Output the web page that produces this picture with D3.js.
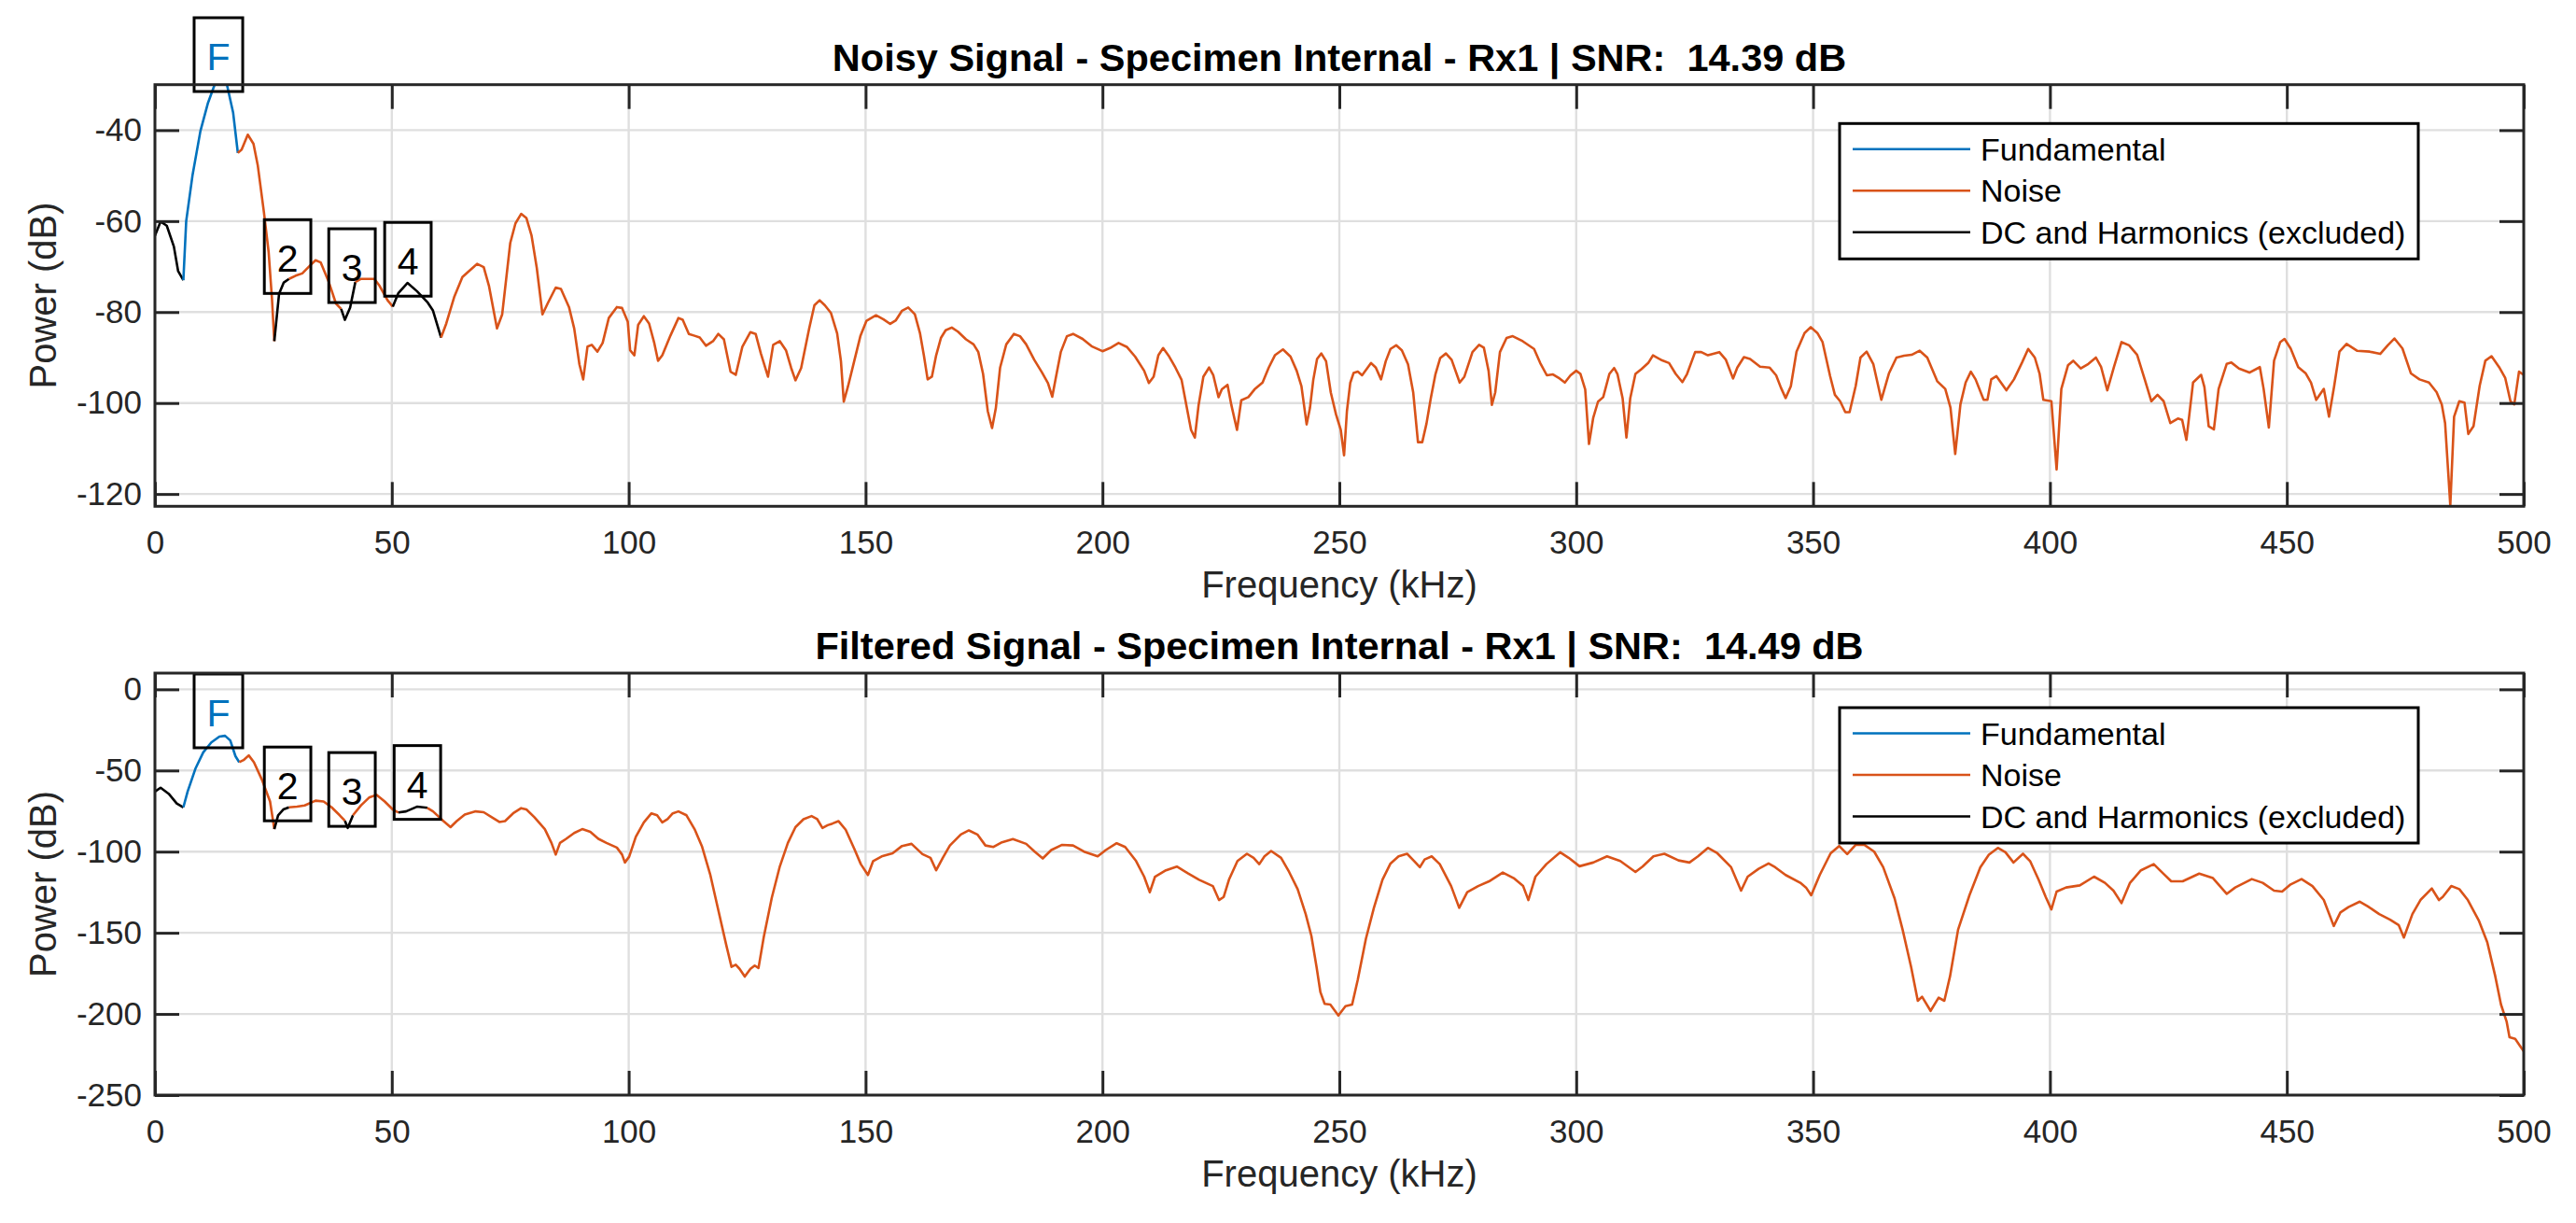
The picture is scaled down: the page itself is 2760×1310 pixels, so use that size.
<!DOCTYPE html>
<html lang="en">
<head>
  <meta charset="UTF-8">
  <title>SNR spectrum - Specimen Internal - Rx1</title>
  <script src="https://d3js.org/d3.v7.min.js"></script>
  <style>
    body { margin: 0; background: #fff; }
    text { font-family: "Liberation Sans", Arial, Helvetica, sans-serif; }
  </style>
</head>
<body>
<script>
  // values: [frequency kHz, power dB]
  var noisySpectrum = [
    [0,-63.2],[1.2,-60.1],[2.5,-61],[4,-65.6],[4.9,-71],[6.0,-73],
    [6.6,-60],[7.95,-49.8],[9.6,-40.2],[11.2,-34],[12.6,-30],[13.9,-28],[15.2,-30],[16.5,-36.1],[17.5,-45],
    [18.3,-44.3],[19.6,-41],[20.8,-43],[21.7,-47.7],[23.0,-58],[24.0,-66.8],[24.7,-77],[25.2,-86.4],
    [26.2,-76],[27.2,-73.5],[28.3,-72.7],[29.7,-72],[31.1,-71.5],[32.5,-70],[33.9,-68.6],[35,-69.1],[36.7,-73.4],
    [38.2,-78.1],[39.3,-79.3],[40.1,-81.7],[41.2,-79],[42.3,-73.4],[43.5,-72.7],[46.3,-72.7],[47.4,-74.2],[49.1,-77.4],
    [50.2,-78.8],[51.4,-75.8],[53.3,-73.6],[55.3,-75.4],[57.5,-77.8],[58.7,-79.7],[60.4,-85.6],[61.5,-82.5],[63.2,-76.6],
    [64.9,-72.3],[66.6,-70.7],[68,-69.4],[69.4,-70.1],[70.5,-74.2],[72.2,-83.6],[73.3,-80.5],[75,-64.8],[76.1,-60.5],
    [77.3,-58.4],[78.4,-59.3],[79.5,-63.2],[80.6,-70.3],[81.8,-80.5],[82.9,-78.1],[84.6,-74.6],[85.7,-74.9],[87.4,-78.9],
    [88.5,-83.6],[89.6,-91.5],[90.4,-94.8],[91.3,-87.6],[92.2,-87.2],[93.4,-88.7],[94.5,-86.8],[95.8,-81.3],[97.5,-78.9],
    [98.6,-79.1],[99.8,-82.1],[100.3,-88.4],[101.2,-89.5],[102,-82.8],[103.2,-80.9],[104.3,-82.5],[105.4,-86.8],[106.2,-90.7],
    [107.1,-89.5],[108.8,-85.2],[110.5,-81.3],[111.4,-81.7],[112.7,-84.8],[113.9,-85.2],[115,-85.6],[116.3,-87.4],[117.8,-86.4],
    [118.9,-84.8],[120.1,-86],[121.5,-93.1],[122.6,-93.8],[124,-87.6],[125.7,-84.4],[126.8,-84.8],[127.9,-89.1],[129.4,-94.2],
    [130.5,-87.2],[131.9,-86.4],[133.2,-88.4],[134.3,-92.3],[135.2,-95],[136.4,-92.3],[138.1,-83.6],[139.2,-78.5],[140.3,-77.4],
    [141.4,-78.5],[142.7,-80.2],[144,-84.7],[144.8,-90.8],[145.4,-99.7],[146.3,-96.3],[147.6,-90.8],[148.9,-85.3],[150.2,-81.9],
    [152.2,-80.7],[153.8,-81.6],[155.2,-82.6],[156.4,-81.8],[157.7,-79.7],[159,-79],[160.4,-80.5],[161.5,-84.7],[162.3,-89.5],
    [163.1,-94.8],[164,-94.2],[164.9,-89.5],[165.9,-85.7],[166.9,-84],[168.2,-83.4],[169.5,-84.3],[171.2,-86],[172.8,-87.1],
    [173.8,-88.8],[174.8,-93.6],[175.8,-101.8],[176.7,-105.5],[177.5,-101.1],[178.4,-92.2],[179.7,-87.1],[181.3,-84.8],
    [182.6,-85.3],[183.9,-87.1],[185.6,-90.5],[187.2,-93.2],[188.5,-95.6],[189.4,-98.6],[190.2,-94.2],[191.2,-88.8],
    [192.5,-85.3],[193.8,-84.8],[195.8,-85.9],[197.7,-87.5],[200,-88.6],[201.6,-87.9],[203.4,-86.8],[205.2,-87.7],
    [206.9,-89.8],[208.8,-92.9],[209.8,-95.6],[210.8,-94.2],[211.8,-89.5],[212.8,-87.9],[214.1,-89.8],[215.4,-92.2],
    [216.7,-94.9],[217.7,-100.4],[218.7,-105.9],[219.5,-107.6],[220.3,-100.4],[221.3,-94.2],[222.5,-92.2],[223.4,-93.9],
    [224.5,-98.7],[225.2,-97],[226.4,-96],[227.2,-100.4],[228.4,-105.9],[229.3,-99.4],[230.8,-98.7],[232.1,-97],
    [233.8,-95.5],[235.1,-92.2],[236.4,-89.5],[238.1,-88.2],[239.7,-89.8],[241,-92.9],[242,-96.3],[243.1,-104.7],
    [243.8,-101.1],[244.5,-94.9],[245.3,-90.3],[246.2,-89.1],[247.2,-90.8],[248.2,-97.7],[249.3,-102.5],[250.3,-105.9],
    [251,-111.5],[251.6,-101.8],[252.3,-95.6],[253,-93.4],[253.9,-93.1],[254.8,-93.9],[256.7,-91.2],[257.7,-92.2],
    [258.8,-94.8],[259.8,-90.8],[260.8,-88.1],[262,-87.3],[263.2,-88.4],[264.5,-91.5],[265.6,-97.7],[266.6,-108.6],
    [267.5,-108.6],[268.4,-104.5],[269.3,-99],[270.3,-93.6],[271.3,-90.1],[272.5,-89.1],[273.7,-90.5],[275.4,-95.5],
    [276.4,-94.2],[278.1,-88.8],[279.5,-87.2],[280.5,-87.8],[281.5,-92.9],[282.2,-100.4],[282.9,-97.7],[283.9,-88.8],
    [285.3,-85.7],[286.6,-85.3],[288.7,-86.4],[291.1,-88.1],[292.4,-91.2],[293.8,-93.9],[295.1,-93.7],[296.5,-94.6],
    [297.6,-95.5],[298.8,-93.9],[300,-92.9],[300.9,-93.6],[301.9,-97],[302.7,-109],[303.6,-103.2],[304.6,-99.7],
    [305.7,-98.7],[307,-93.6],[308,-92.3],[308.7,-93.6],[309.8,-99],[310.6,-107.6],[311.4,-99],[312.5,-93.6],
    [313.8,-92.5],[315.2,-91.2],[316.2,-89.5],[317.9,-90.5],[319.6,-91.2],[321,-93.6],[322.4,-95.4],[323.4,-93.6],
    [325.1,-88.8],[326.4,-88.8],[327.8,-89.5],[330.2,-88.8],[331.6,-90.5],[333.1,-94.6],[334,-92.2],[335.4,-89.9],
    [336.7,-90.3],[338.8,-92],[340.8,-92.2],[342.2,-93.9],[343.2,-96.6],[344.2,-98.9],[345.3,-96.3],[346.5,-88.7],
    [348.2,-84.6],[349.5,-83.3],[350.9,-84.6],[352,-86.6],[353.6,-94.1],[354.6,-98.2],[355.7,-99.6],[356.8,-102],
    [357.7,-102],[359,-96.2],[360,-90],[361.3,-88.7],[362.7,-91.4],[364.4,-99.3],[366,-93.5],[367.6,-90],[369.2,-89.6],
    [370.8,-89.4],[372.5,-88.5],[374.1,-90],[376.2,-95.2],[377.9,-96.9],[379,-101],[380,-111.2],[381.1,-100.3],
    [382.2,-95.5],[383.3,-93.1],[384.3,-94.8],[386,-99.3],[386.8,-99.3],[387.6,-94.8],[388.7,-94.1],[390.8,-97.2],
    [392.4,-94.8],[394.1,-91.1],[395.4,-88.1],[396.8,-90],[397.8,-93.5],[398.6,-99.3],[400.3,-99.6],[401.4,-114.6],
    [402.4,-96.9],[403.8,-91.7],[404.9,-90.7],[406.5,-92.4],[408.1,-91.4],[409.7,-90],[410.8,-92.1],[412.1,-97.2],
    [413.5,-92.1],[415.1,-86.6],[416.7,-87.3],[418.4,-89.4],[420,-94.8],[421.4,-99.6],[422.7,-98.2],[424,-99.6],
    [425.4,-104.4],[427,-103.4],[427.9,-103.7],[428.8,-108.1],[430.2,-95.5],[431.9,-93.8],[432.6,-96.5],[433.5,-105.1],
    [434.6,-105.8],[435.6,-96.9],[437.3,-91.4],[438.3,-91.1],[439.9,-92.4],[442.1,-93.3],[444.3,-92.1],[445.1,-96.9],
    [446.2,-105.4],[447.3,-90.7],[448.6,-86.6],[449.5,-85.9],[450.8,-88],[452.4,-92.1],[454,-93.5],[455.1,-95.5],
    [456.2,-99.3],[457.8,-96.9],[458.9,-103],[460,-96.2],[461.1,-88.7],[462.6,-87],[464.8,-88.5],[467.5,-88.7],
    [469.7,-89.2],[471.3,-87.3],[472.7,-85.8],[474.4,-88],[476.2,-93.5],[478,-94.8],[480,-95.5],[481.6,-97.6],
    [482.7,-100.3],[483.4,-104.4],[484.5,-122.5],[485.3,-103],[486.4,-99.6],[487.5,-99.9],[488.3,-106.8],[489.4,-105.1],
    [490.7,-96.2],[491.9,-90.7],[493.2,-89.7],[494.8,-92.1],[496.1,-94.5],[497.2,-99.6],[498,-100.3],[499,-93.1],[500,-93.8]
  ];

  var filteredSpectrum = [
    [0,-63],[1.2,-60.6],[2.9,-64.3],[4.6,-70.3],[6.0,-72.7],
    [6.9,-63],[8.6,-48.5],[10.2,-38.8],[11.9,-32.7],[13.6,-29.1],[14.8,-28.6],[15.9,-31.5],[17,-41.2],[17.8,-44.9],
    [18.7,-43.6],[19.8,-40.7],[20.9,-44.9],[22.6,-55.8],[24.3,-69.1],[25.2,-86.1],
    [26,-77.6],[27.1,-74],[28.3,-72.7],[30,-72.3],[31.6,-71.5],[33.9,-68.6],[35.6,-69.1],[37.3,-72.7],[39,-77.6],
    [40.1,-81],[40.7,-85.4],[41.8,-77.6],[43.5,-71.5],[45.2,-66.7],[46.8,-65],[48.5,-69.1],[50.2,-74],[51.4,-75.9],
    [53,-75.2],[55.3,-72.3],[57.5,-73],[58.7,-75.2],[60.9,-81.2],[62.4,-84.9],[63.7,-81.2],[65.4,-77.1],[67.7,-75.2],
    [69.4,-75.7],[71.1,-78.8],[72.7,-81.7],[73.9,-81.2],[75.6,-76.4],[77.3,-73.2],[78.4,-74],[80.1,-78.8],[82.3,-86.1],
    [83.7,-94.6],[84.6,-101.8],[85.5,-94.6],[86.8,-92.1],[88.5,-88.5],[90.2,-86.1],[91.9,-87.8],[93.6,-92.1],[95.3,-94.6],
    [97.5,-97.5],[98.6,-101.8],[99.2,-106.7],[100.1,-103.1],[101.5,-90.9],[103.2,-82],[104.8,-76.4],[106,-77.6],
    [107.1,-82],[108.2,-80],[109.3,-76.4],[110.5,-75.2],[112.2,-77.6],[113.9,-86.1],[115.5,-97],[117.2,-114],
    [118.9,-135.8],[120.6,-157.6],[121.7,-171],[122.6,-169.7],[123.4,-172.2],[124.5,-177],[125.7,-172.2],[126.6,-170.2],
    [127.4,-171.7],[128.5,-152.8],[130.2,-128.5],[131.9,-109.1],[133.6,-94.6],[135.2,-84.9],[136.9,-80],[138.6,-78.1],
    [139.8,-80],[140.9,-85.4],[142,-83.7],[143,-82.7],[144.3,-81.2],[145.8,-86.5],[147.6,-98.1],[149,-107.7],
    [150.5,-114.4],[151.6,-105.8],[153.4,-102.9],[155.7,-101],[157.7,-96.5],[159.7,-95.2],[162,-101.5],[163.7,-103.8],
    [164.9,-111.5],[166.3,-103.8],[167.8,-96.2],[170.1,-89.4],[171.8,-86.9],[173.6,-89.4],[175.3,-96.2],[177,-97.1],
    [178.8,-94.2],[181.1,-92.3],[183.9,-95.2],[185.7,-100],[187.4,-104.2],[189.2,-99],[191.5,-95.8],[193.8,-96.2],
    [196.1,-100],[199,-102.9],[200.7,-99],[203,-94.8],[204.8,-97.1],[207.1,-105.8],[208.8,-115.4],[210,-125],
    [211.1,-115.4],[213.4,-111.5],[215.7,-109.2],[218.1,-113.5],[220.4,-117.3],[223.3,-121.2],[224.6,-129.8],
    [225.6,-127.9],[226.7,-117.3],[228.5,-105.8],[230.5,-101.3],[231.9,-103.8],[233.1,-107.7],[234.2,-102.9],
    [235.6,-99.6],[237.7,-103.8],[239.4,-112.5],[241.2,-123.1],[242.9,-138.5],[244.1,-151.9],[245.2,-171.2],
    [246,-186.5],[246.9,-193.8],[248.1,-194.2],[249.8,-201],[251.3,-195.2],[252.7,-194.2],[253.9,-178.8],
    [255.6,-153.8],[257.3,-134.6],[259.1,-117.3],[260.8,-107.3],[262.5,-102.9],[264.3,-101.3],[265.8,-105.8],
    [267,-109.6],[268,-104.8],[269.5,-102.9],[271.2,-107.7],[273.6,-121.2],[275.3,-134.6],[277,-125],[279.3,-121.2],
    [281.6,-118.3],[284.5,-112.9],[286.8,-116.3],[288.8,-121.2],[289.9,-129.8],[291.4,-115.4],[293.7,-107.7],
    [296.6,-100.4],[298.4,-103.8],[300.7,-109],[303.6,-106.7],[306.5,-102.9],[309.3,-105.8],[312.5,-112.5],
    [314,-109.2],[316.3,-102.9],[318.6,-101.3],[321.6,-105.4],[323.9,-106.7],[325.7,-102.9],[327.8,-97.7],
    [329.8,-101],[332.7,-109.6],[334.8,-124],[336.2,-115.4],[338.5,-110.6],[340.6,-107.3],[342,-109.6],[344.2,-114.4],
    [347.3,-119.2],[348.5,-122.1],[349.6,-126.9],[351.4,-114.4],[353.7,-101],[355.5,-96.5],[357.2,-101.5],[359,-95.8],
    [360.8,-95.8],[362.9,-100],[364.8,-109.6],[367.2,-128.8],[368.9,-148.1],[370.7,-171.2],[372.1,-191.9],[373,-189.4],
    [374.8,-198.1],[376.5,-190],[377.7,-191.9],[378.9,-176.9],[380.6,-148.1],[383,-126.9],[385.3,-109.6],[387.1,-101.9],
    [389,-97.7],[390.6,-100.4],[392.3,-106.7],[394.3,-101.3],[395.8,-105.8],[397.6,-117.3],[399.1,-127.9],[400.3,-135.6],
    [401.4,-124.6],[403.4,-122.1],[406.3,-120.8],[409.3,-115.4],[411.6,-119.2],[413.4,-124],[415.1,-131.7],[416.9,-119.2],
    [419.2,-111.5],[421.9,-107.7],[423.9,-113.5],[425.6,-118.3],[428,-118.3],[431.5,-113.5],[434.4,-116.3],[437.3,-126],
    [439.1,-122.1],[442.6,-116.9],[444.9,-119.2],[447.3,-124],[449,-124.6],[450.8,-120.2],[453.1,-116.9],[455.4,-121.2],
    [457.8,-129.8],[459.9,-145.8],[461.3,-137.5],[463,-134.2],[465.4,-130.8],[467.1,-133.7],[469.5,-138.5],[471.8,-141.9],
    [473.6,-145.2],[474.7,-152.9],[476.5,-138.5],[478.2,-129.8],[480.6,-122.7],[482.1,-129.8],[482.9,-127.9],[484.7,-121.2],
    [486.4,-123.1],[488.2,-129.8],[490.5,-142.3],[492.3,-155.8],[494,-176.9],[495.2,-194.2],[496.4,-204.8],[497,-214.4],
    [498.2,-215.4],[499.1,-219.2],[500,-223]
  ];

  // frequency bands (kHz) of DC, fundamental and harmonics 2..4
  var noisyDC = [0, 6.0];
  var noisyFundamental = [6.0, 17.5];
  var noisyHarmonics = [[25.2, 28.3], [39.3, 42.3], [50.2, 60.4]];
  var filteredDC = [0, 6.0];
  var filteredFundamental = [6.0, 17.8];
  var filteredHarmonics = [[25.2, 28.3], [40.1, 41.8], [51.4, 57.5]];

  // marker labels: text, frequency (kHz), power at the box bottom (dB)
  var noisyMarkers = [['F', 13.4, -31.5], ['2', 28.0, -75.9], ['3', 41.6, -77.9], ['4', 53.4, -76.5]];
  var filteredMarkers = [['F', 13.4, -36.0], ['2', 28.0, -81.0], ['3', 41.6, -84.4], ['4', 55.4, -80.1]];

  var xTicks = [0, 50, 100, 150, 200, 250, 300, 350, 400, 450, 500];
  var noisyYTicks = [-120, -100, -80, -60, -40];
  var filteredYTicks = [-250, -200, -150, -100, -50, 0];
  var noisyYLim = [-122.7, -30];
  var filteredYLim = [-250, 10];

  var legendNames = ['Fundamental', 'Noise', 'DC and Harmonics (excluded)'];

  var BLUE = '#0072BD', ORANGE = '#D95319', BLACK = '#000000', AXIS = '#262626', GRID = '#dfdfdf';

  var panels = [
    { title: 'Noisy Signal - Specimen Internal - Rx1 | SNR:  14.39 dB', data: noisySpectrum,
      dc: noisyDC, fund: noisyFundamental, harm: noisyHarmonics, markers: noisyMarkers,
      yTicks: noisyYTicks, yLim: noisyYLim, top: 90.7, bottom: 542.3, legendTop: 132.3 },
    { title: 'Filtered Signal - Specimen Internal - Rx1 | SNR:  14.49 dB', data: filteredSpectrum,
      dc: filteredDC, fund: filteredFundamental, harm: filteredHarmonics, markers: filteredMarkers,
      yTicks: filteredYTicks, yLim: filteredYLim, top: 721, bottom: 1173, legendTop: 758 }
  ];

  var left = 166, right = 2704;

  var svg = d3.select('body').append('svg')
    .attr('width', 2760)
    .attr('height', 1310);

  var x = d3.scaleLinear().domain([0, 500]).range([left, right]);

  panels.forEach(function (p, pi) {
    var y = d3.scaleLinear().domain(p.yLim).range([p.bottom, p.top]);
    var g = svg.append('g');

    // grid
    g.selectAll('.vgrid').data(xTicks).enter().append('line')
      .attr('x1', x).attr('x2', x).attr('y1', p.top).attr('y2', p.bottom)
      .style('stroke', GRID).style('stroke-width', 2.4);
    g.selectAll('.hgrid').data(p.yTicks).enter().append('line')
      .attr('x1', left).attr('x2', right).attr('y1', y).attr('y2', y)
      .style('stroke', GRID).style('stroke-width', 2.4);

    // split the spectrum into its bands
    var special = [{ r: p.dc, c: BLACK }, { r: p.fund, c: BLUE }].concat(p.harm.map(function (r) { return { r: r, c: BLACK }; }));
    special.sort(function (a, b) { return a.r[0] - b.r[0]; });
    var segs = [], last = 0;
    special.forEach(function (s) {
      if (s.r[0] > last) segs.push({ r: [last, s.r[0]], c: ORANGE });
      segs.push(s);
      last = s.r[1];
    });
    if (last < 500) segs.push({ r: [last, 500], c: ORANGE });

    var clipId = 'clip' + pi;
    svg.append('clipPath').attr('id', clipId).append('rect')
      .attr('x', left).attr('y', p.top).attr('width', right - left).attr('height', p.bottom - p.top);

    var line = d3.line().x(function (d) { return x(d[0]); }).y(function (d) { return y(d[1]); });
    g.append('g').attr('clip-path', 'url(#' + clipId + ')')
      .selectAll('path').data(segs).enter().append('path')
      .attr('d', function (s) {
        return line(p.data.filter(function (d) { return d[0] >= s.r[0] - 1e-9 && d[0] <= s.r[1] + 1e-9; }));
      })
      .style('fill', 'none')
      .style('stroke', function (s) { return s.c; })
      .style('stroke-width', 2.6)
      .style('stroke-linejoin', 'round');

    // marker boxes (outline only, the trace shows through)
    p.markers.forEach(function (m) {
      var mg = g.append('g');
      var rect = mg.append('rect');
      var t = mg.append('text')
        .attr('x', x(m[1]))
        .attr('y', y(m[2]) - 23)
        .attr('text-anchor', 'middle')
        .style('font-size', '41px')
        .style('fill', m[0] === 'F' ? BLUE : BLACK)
        .text(m[0]);
      var w = t.node().getComputedTextLength() + 27;
      rect.attr('x', x(m[1]) - w / 2).attr('y', y(m[2]) - 79)
        .attr('width', w).attr('height', 79)
        .style('fill', 'none').style('stroke', BLACK).style('stroke-width', 3);
    });

    // axes
    function styleAxis(sel) {
      sel.select('.domain').remove();
      sel.selectAll('line').style('stroke', AXIS).style('stroke-width', 3);
      sel.selectAll('text').style('font-family', '"Liberation Sans", Arial, sans-serif')
        .style('font-size', '35px').style('fill', AXIS);
    }
    var fmt = function (d) { return String(d); };
    g.append('g').attr('transform', 'translate(0,' + p.bottom + ')')
      .call(d3.axisBottom(x).tickValues(xTicks).tickFormat(fmt).tickSize(-26).tickPadding(26))
      .call(styleAxis);
    g.append('g').attr('transform', 'translate(0,' + p.top + ')')
      .call(d3.axisTop(x).tickValues(xTicks).tickFormat('').tickSize(-26))
      .call(styleAxis);
    g.append('g').attr('transform', 'translate(' + left + ',0)')
      .call(d3.axisLeft(y).tickValues(p.yTicks).tickFormat(fmt).tickSize(-26).tickPadding(14))
      .call(styleAxis);
    g.append('g').attr('transform', 'translate(' + right + ',0)')
      .call(d3.axisRight(y).tickValues(p.yTicks).tickFormat('').tickSize(-26))
      .call(styleAxis);

    g.append('rect')
      .attr('x', left).attr('y', p.top).attr('width', right - left).attr('height', p.bottom - p.top)
      .style('fill', 'none').style('stroke', AXIS).style('stroke-width', 3);

    // titles and labels
    g.append('text')
      .attr('x', (left + right) / 2).attr('y', p.top - 15)
      .attr('text-anchor', 'middle')
      .style('font-size', '41.5px').style('font-weight', 'bold').style('white-space', 'pre')
      .style('fill', '#000')
      .text(p.title);
    g.append('text')
      .attr('x', (left + right) / 2).attr('y', p.bottom + 98)
      .attr('text-anchor', 'middle')
      .style('font-size', '40px').style('fill', AXIS)
      .text('Frequency (kHz)');
    g.append('text')
      .attr('transform', 'translate(60,' + (p.top + p.bottom) / 2 + ') rotate(-90)')
      .attr('text-anchor', 'middle')
      .style('font-size', '40px').style('fill', AXIS)
      .text('Power (dB)');

    // legend
    var lg = g.append('g');
    lg.append('rect')
      .attr('x', 1971).attr('y', p.legendTop).attr('width', 620).attr('height', 145)
      .style('fill', '#fff').style('stroke', BLACK).style('stroke-width', 3);
    var legendColors = [BLUE, ORANGE, BLACK];
    legendNames.forEach(function (name, i) {
      var ly = p.legendTop + 27.5 + i * 44.5;
      lg.append('line').attr('x1', 1985).attr('x2', 2111).attr('y1', ly).attr('y2', ly)
        .style('stroke', legendColors[i]).style('stroke-width', 2.6);
      lg.append('text').attr('x', 2122).attr('y', ly + 12)
        .style('font-size', '34px').style('fill', '#000')
        .text(name);
    });
  });
</script>
</body>
</html>
